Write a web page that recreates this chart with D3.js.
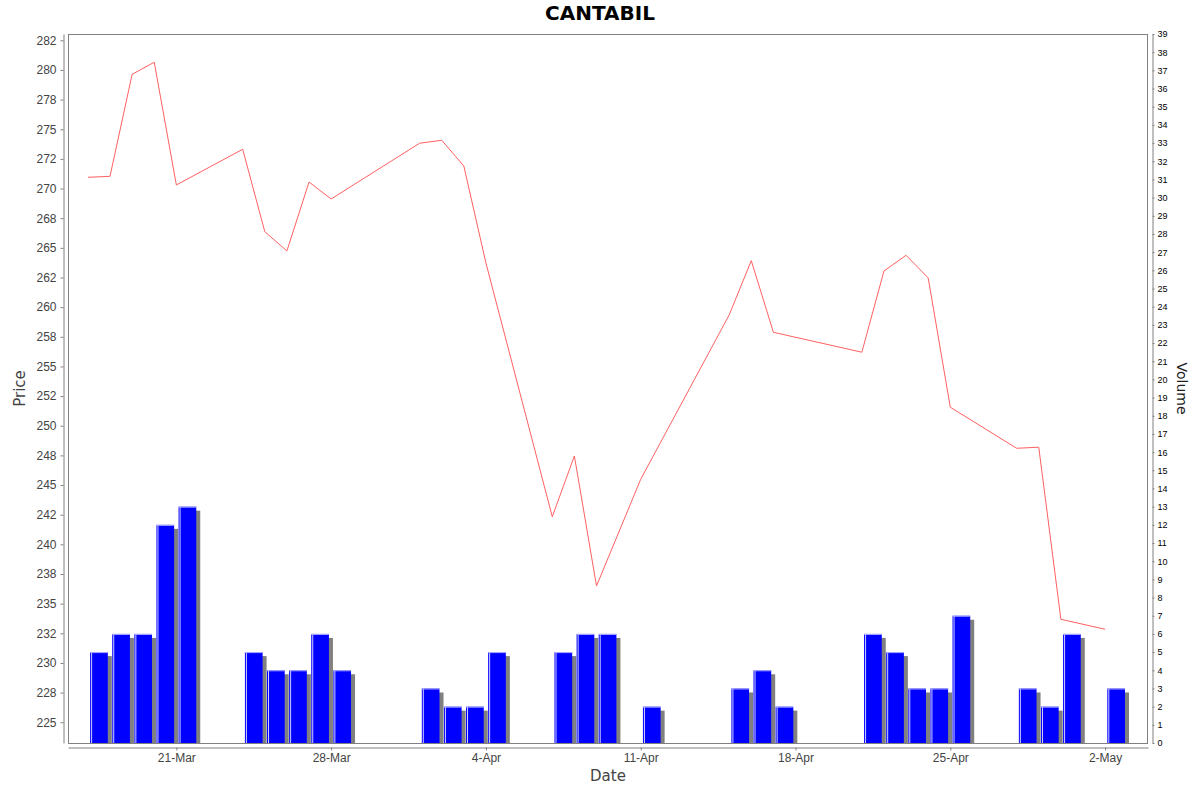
<!DOCTYPE html>
<html>
<head>
<meta charset="utf-8">
<script src="https://cdn.jsdelivr.net/npm/d3@7"></script>
<style>
  body { margin: 0; background: #fff; }
  svg { display: block; font-family: "DejaVu Sans", sans-serif; }
</style>
</head>
<body>
<div id="chart"></div>
<script>
// trading days shown on the chart
const dates = [
  "2025-03-17","2025-03-18","2025-03-19","2025-03-20","2025-03-21",
  "2025-03-24","2025-03-25","2025-03-26","2025-03-27","2025-03-28",
  "2025-04-01","2025-04-02","2025-04-03","2025-04-04",
  "2025-04-07","2025-04-08","2025-04-09","2025-04-11",
  "2025-04-15","2025-04-16","2025-04-17",
  "2025-04-21","2025-04-22","2025-04-23","2025-04-24","2025-04-25",
  "2025-04-28","2025-04-29","2025-04-30","2025-05-02"
]
const prices = [
  270.95, 271.03, 279.63, 280.65, 270.3,
  273.31, 266.36, 264.74, 270.55, 269.12,
  273.82, 274.07, 271.9, 263.72,
  242.33, 247.45, 236.49, 245.49,
  259.34, 263.92, 257.88,
  256.2, 263.05, 264.37, 262.46, 251.56,
  248.1, 248.19, 233.68, 232.84
]
const volumes = [
  5, 6, 6, 12, 13,
  5, 4, 4, 6, 4,
  3, 2, 2, 5,
  5, 6, 6, 2,
  3, 4, 2,
  6, 5, 3, 3, 7,
  3, 2, 6, 3
]
const priceTicks = [225, 227.5, 230, 232.5, 235, 237.5, 240, 242.5, 245, 247.5, 250, 252.5,
  255, 257.5, 260, 262.5, 265, 267.5, 270, 272.5, 275, 277.5, 280, 282.5]
const priceTickLabels = ["225","228","230","232","235","238","240","242","245","248","250","252",
  "255","258","260","262","265","268","270","272","275","278","280","282"]
const xTicks = ["2025-03-21","2025-03-28","2025-04-04","2025-04-11","2025-04-18","2025-04-25","2025-05-02"]
const volumeTicks = d3.range(0, 40)

const width = 1200
const height = 792
const plot = {left: 68, top: 34, right: 1148, bottom: 743}
const DAY = 864e5
const parse = d3.utcParse("%Y-%m-%d")

const data = dates.map((d, i) => ({date: parse(d), price: prices[i], volume: volumes[i]}))

const x = d3.scaleUtc()
  .domain([+parse("2025-03-16") + 0.1 * DAY, +parse("2025-05-03") + 0.94 * DAY])
  .range([plot.left, plot.right])

const y = d3.scaleLinear()
  .domain([223.25, 283.03])
  .range([plot.bottom, plot.top])

const v = d3.scaleLinear()
  .domain([0, 39])
  .range([plot.bottom, plot.top])

const svg = d3.select("#chart")
  .append("svg")
  .attr("width", width)
  .attr("height", height)

svg.append("defs").append("clipPath")
  .attr("id", "plotClip")
  .append("rect")
  .attr("x", plot.left)
  .attr("y", plot.top)
  .attr("width", plot.right - plot.left)
  .attr("height", plot.bottom - plot.top)

// title
svg.append("text")
  .attr("x", width / 2)
  .attr("y", 20)
  .attr("text-anchor", "middle")
  .style("font-size", "20px")
  .style("font-weight", "bold")
  .attr("fill", "#000")
  .text("CANTABIL")

const marks = svg.append("g").attr("clip-path", "url(#plotClip)")

// volume bars, each spanning its day with a 10% margin either side
const bars = marks.selectAll("g.bar")
  .data(data)
  .join("g")
  .attr("class", "bar")

const barX0 = d => x(+d.date + 0.1 * DAY)
const barX1 = d => x(+d.date + 0.9 * DAY)

bars.append("rect")
  .attr("x", d => barX0(d) + 4)
  .attr("y", d => v(d.volume) + 4)
  .attr("width", d => barX1(d) - barX0(d))
  .attr("height", d => plot.bottom - v(d.volume))
  .attr("fill", "#808080")

bars.append("rect")
  .attr("x", barX0)
  .attr("y", d => v(d.volume))
  .attr("width", d => barX1(d) - barX0(d))
  .attr("height", d => plot.bottom - v(d.volume))
  .attr("fill", "#0000ff")

bars.append("line")
  .attr("x1", d => barX0(d) + 1.5).attr("x2", d => barX0(d) + 1.5)
  .attr("y1", d => v(d.volume)).attr("y2", plot.bottom)
  .attr("stroke", "#d0d0ff")

bars.append("line")
  .attr("x1", barX0).attr("x2", barX1)
  .attr("y1", d => v(d.volume) + 0.5).attr("y2", d => v(d.volume) + 0.5)
  .attr("stroke", "#b0b0ff")

// price line
marks.append("path")
  .datum(data)
  .attr("fill", "none")
  .attr("stroke", "#ff6060")
  .attr("stroke-width", 1)
  .attr("d", d3.line().x(d => x(d.date)).y(d => y(d.price)))

// plot border
svg.append("rect")
  .attr("x", plot.left + 0.5)
  .attr("y", plot.top + 0.5)
  .attr("width", plot.right - plot.left - 1)
  .attr("height", plot.bottom - plot.top)
  .attr("fill", "none")
  .attr("stroke", "#808080")

// left axis (price)
const leftAxis = svg.append("g")
  .attr("transform", `translate(63.5,0)`)
  .call(d3.axisLeft(y)
    .tickValues(priceTicks)
    .tickFormat((d, i) => priceTickLabels[i])
    .tickSize(3)
    .tickSizeOuter(0)
    .tickPadding(4))
leftAxis.selectAll("text").style("font-size", "12px").attr("fill", "#444")

// bottom axis (date)
const bottomAxis = svg.append("g")
  .attr("transform", `translate(0,747.5)`)
  .call(d3.axisBottom(x)
    .tickValues(xTicks.map(parse))
    .tickFormat(d3.utcFormat("%-d-%b"))
    .tickSize(3)
    .tickSizeOuter(0)
    .tickPadding(3))
bottomAxis.selectAll("text").style("font-size", "12px").attr("fill", "#444")

// right axis (volume)
const rightAxis = svg.append("g")
  .attr("transform", `translate(1152.5,0)`)
  .call(d3.axisRight(v)
    .tickValues(volumeTicks)
    .tickFormat(d3.format("d"))
    .tickSize(2)
    .tickSizeOuter(0)
    .tickPadding(3))
rightAxis.selectAll("text").style("font-size", "9px").attr("fill", "#000")

svg.selectAll(".domain, .tick line").attr("stroke", "#808080")

// axis titles
svg.append("text")
  .attr("transform", `translate(25,${(plot.top + plot.bottom) / 2}) rotate(-90)`)
  .attr("text-anchor", "middle")
  .style("font-size", "15px")
  .attr("fill", "#444")
  .text("Price")

svg.append("text")
  .attr("x", (plot.left + plot.right) / 2)
  .attr("y", 781)
  .attr("text-anchor", "middle")
  .style("font-size", "15px")
  .attr("fill", "#444")
  .text("Date")

svg.append("text")
  .attr("transform", `translate(1177,${(plot.top + plot.bottom) / 2}) rotate(90)`)
  .attr("text-anchor", "middle")
  .style("font-size", "14px")
  .attr("fill", "#222")
  .text("Volume")
</script>
</body>
</html>
